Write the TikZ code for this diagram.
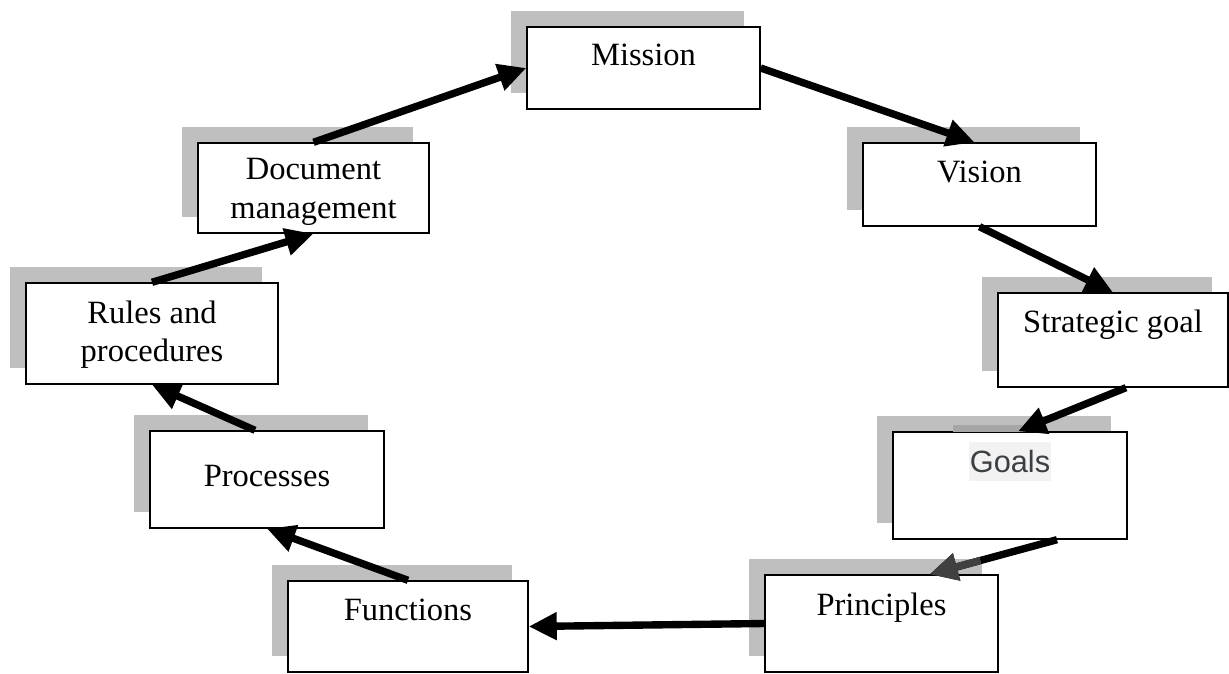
\documentclass[tikz,border=0pt]{standalone}
\usepackage{fontspec}
\setmainfont{Liberation Serif}
\newfontfamily\goalsfont{Liberation Sans}
\usetikzlibrary{positioning,shadows,arrows.meta,calc}
\definecolor{shadowgray}{HTML}{BFBFBF}
\definecolor{stripgray}{HTML}{A6A6A6}
\definecolor{goalsgray}{HTML}{3C4043}
\definecolor{goalsbg}{HTML}{F2F2F2}
\definecolor{tipgray}{HTML}{404040}

\begin{document}
\begin{tikzpicture}[x=0.02cm, y=-0.02cm,
   box/.style={draw, line width=0.8pt, fill=white,
     general shadow={shadow xshift=-0.32cm, shadow yshift=0.32cm, fill=shadowgray}},
   txt/.style={inner sep=0pt, align=center, font=\fontsize{18.5}{22}\selectfont},
   goalstxt/.style={fill=goalsbg, text=goalsgray, inner sep=0pt,
     minimum width=1.64cm, minimum height=0.78cm, font=\goalsfont\fontsize{17.5}{20}\selectfont},
   arr/.style={line width=4.2pt, -{Triangle[length=16pt,width=15pt]}}]
   \useasboundingbox (0,0) rectangle (1229,673);

   % draw boxes
   \node[box, minimum width=4.62cm, minimum height=1.8cm] (docmgmt) at (313.5,188) {};
   \node[box, minimum width=4.66cm, minimum height=1.64cm] (mission) at (643.5,68) {};
   \node[box, minimum width=4.66cm, minimum height=1.66cm] (vision) at (979.5,184.5) {};
   \node[box, minimum width=4.6cm, minimum height=1.88cm] (strategic) at (1113,340) {};
   \node[box, minimum width=4.68cm, minimum height=2.14cm] (goals) at (1010,485.5) {};
   \node[box, minimum width=4.66cm, minimum height=1.94cm] (principles) at (881.5,623.5) {};
   \node[box, minimum width=4.8cm, minimum height=1.82cm] (functions) at (408,626.5) {};
   \node[box, minimum width=4.68cm, minimum height=1.94cm] (processes) at (267,479.5) {};
   \node[box, minimum width=5.04cm, minimum height=2.02cm] (rules) at (152,333.5) {};
   \fill[stripgray] (953,425) rectangle (1042,431.5);

   % draw texts
   \node[txt, below=0.32cm of docmgmt.north] (docmgmt-t) {Document\\management};
   \node[txt, below=0.34cm of mission.north] (mission-t) {Mission};
   \node[txt, below=0.36cm of vision.north] (vision-t) {Vision};
   \node[txt, below=0.34cm of strategic.north] (strategic-t) {Strategic goal};
   \node[goalstxt, below=0.2cm of goals.north] (goals-t) {Goals};
   \node[txt, below=0.36cm of principles.north] (principles-t) {Principles};
   \node[txt, below=0.36cm of functions.north] (functions-t) {Functions};
   \node[txt, below=0.7cm of processes.north] (processes-t) {Processes};
   \node[txt, below=0.36cm of rules.north] (rules-t) {Rules and\\procedures};

   % draw arrows
   \coordinate (vision-in) at ($(vision.north)+(-5,0)$);
   \coordinate (sg-out) at ($(strategic.south)+(13,0)$);
   \coordinate (goals-in) at ($(goals.north)+(8,0)$);
   \coordinate (goals-out) at ($(goals.south)+(47,0)$);
   \coordinate (pr-in) at ($(principles.north)+(48,0)$);
   \coordinate (proc-out) at ($(processes.north)+(-12,0)$);
   \foreach \s/\t in {docmgmt.north/mission.west, mission.east/vision-in,
       vision.south/strategic.north, sg-out/goals-in, principles.west/functions.east,
       functions.north/processes.south, proc-out/rules.south, rules.north/docmgmt.south}
     \draw[arr] (\s) -- (\t);
   \draw[arr] (goals-out) -- (pr-in);
   \draw[arr, tipgray] ($(goals-out)!0.6!(pr-in)$) -- (pr-in);
\end{tikzpicture}
\end{document}
